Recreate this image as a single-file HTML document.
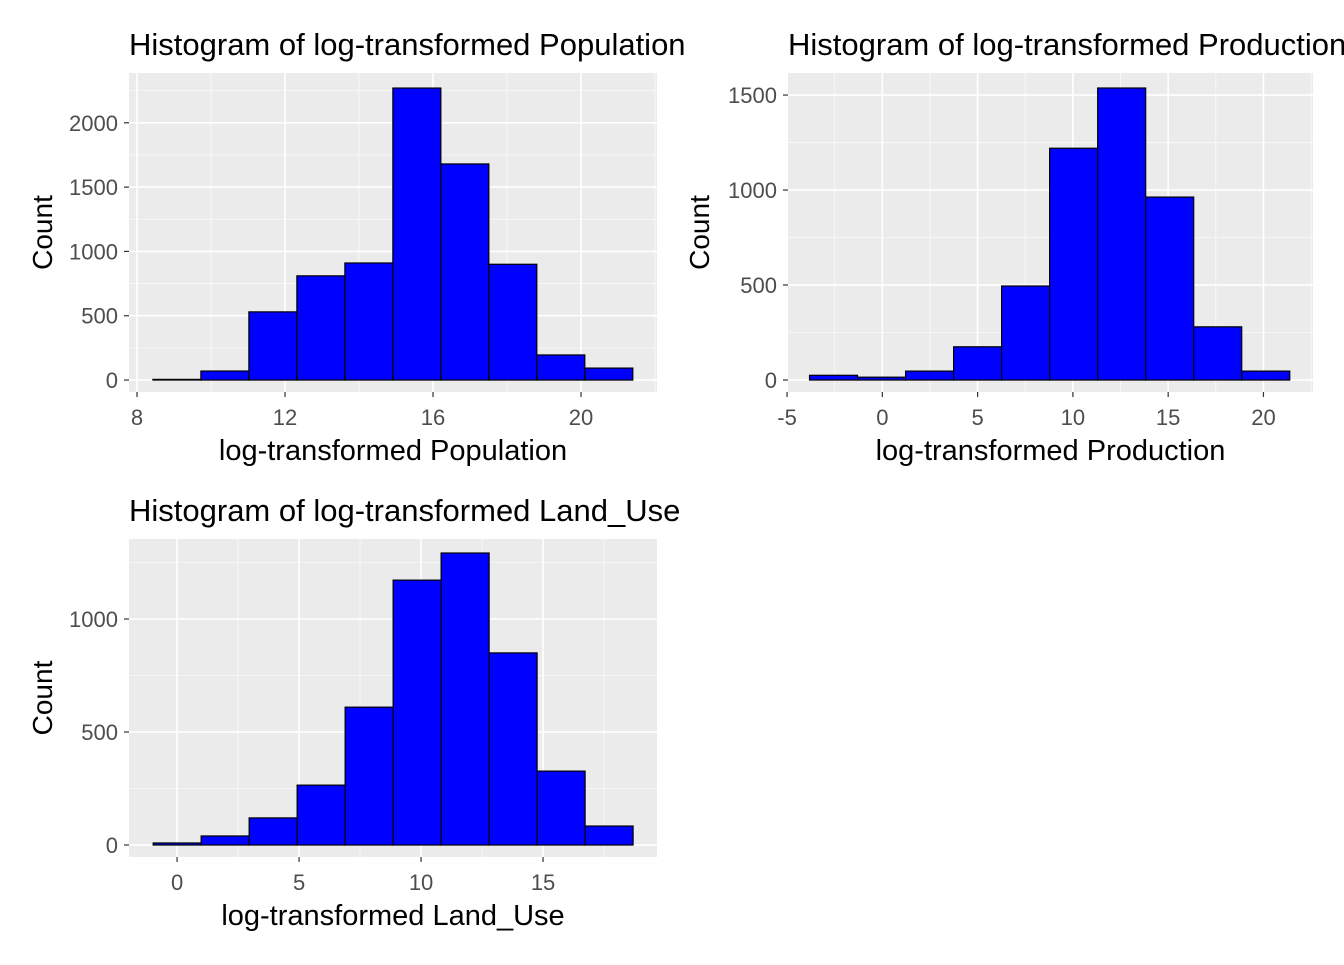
<!DOCTYPE html>
<html><head><meta charset="utf-8"><style>
body{margin:0;background:#fff;width:1344px;height:960px;overflow:hidden}
svg{font-family:"Liberation Sans",sans-serif}
</style></head><body>
<svg id="s" width="1344" height="960"></svg>
<script>
const popCounts=[5,70,530,810,910,2270,1680,900,195,93];
const prodCounts=[25,15,47,175,495,1220,1537,963,280,47];
const landCounts=[9,40,120,265,610,1172,1292,850,327,84];
const popXTicks=[8,12,16,20];
const prodXTicks=[-5,0,5,10,15,20];
const landXTicks=[0,5,10,15];
const popYTicks=[0,500,1000,1500,2000];
const prodYTicks=[0,500,1000,1500];
const landYTicks=[0,500,1000];
const popBins={start:8.43,width:1.297};
const prodBins={start:-3.82,width:2.52};
const landBins={start:-0.98,width:1.967};
const NS="http://www.w3.org/2000/svg";
const svg=document.getElementById('s');
function el(t,a,p){const e=document.createElementNS(NS,t);for(const k in a)e.setAttribute(k,a[k]);(p||svg).appendChild(e);return e;}
function panel(o){
  const g=el('g',{});
  
  
  const L=o.px[0],R=o.px[1],T=o.py[0],B=o.py[1];
  const sx=v=>L+(v-o.xd[0])/(o.xd[1]-o.xd[0])*(R-L);
  const sy=v=>B-(v-o.yd[0])/(o.yd[1]-o.yd[0])*(B-T);
  const bg=el('rect',{x:L,y:T,width:R-L,height:B-T,fill:'#ebebeb'},g);
  
  const xs=o.xt[1]-o.xt[0], ys=o.yt[1]-o.yt[0];
  for(let v=o.xt[0]-xs/2;v<=o.xd[1];v+=xs){if(v>=o.xd[0])el('line',{x1:sx(v),x2:sx(v),y1:T,y2:B,stroke:'#fafafa','stroke-width':0.8},g);}
  for(let v=o.yt[0]-ys/2;v<=o.yd[1];v+=ys){if(v>=o.yd[0])el('line',{y1:sy(v),y2:sy(v),x1:L,x2:R,stroke:'#fafafa','stroke-width':0.8},g);}
  o.xt.forEach(v=>{el('line',{x1:sx(v),x2:sx(v),y1:T,y2:B,stroke:'#fff','stroke-width':1.6},g);
    el('line',{x1:sx(v),x2:sx(v),y1:B,y2:B+5,stroke:'#333','stroke-width':1.2},g);
    const t=el('text',{x:sx(v),y:B+33,'text-anchor':'middle','font-size':22,fill:'#4d4d4d'},g);t.textContent=v;
    });
  o.yt.forEach(v=>{el('line',{y1:sy(v),y2:sy(v),x1:L,x2:R,stroke:'#fff','stroke-width':1.6},g);
    el('line',{y1:sy(v),y2:sy(v),x1:L-5,x2:L,stroke:'#333','stroke-width':1.2},g);
    const t=el('text',{x:L-11,y:sy(v)+8,'text-anchor':'end','font-size':22,fill:'#4d4d4d'},g);t.textContent=v;
    });
  o.counts.forEach((c,i)=>{const x0=o.bins.start+i*o.bins.width;
    const r=el('rect',{x:sx(x0),y:sy(c),width:sx(x0+o.bins.width)-sx(x0),height:sy(0)-sy(c),fill:'#0000ff',stroke:'#000','stroke-width':1.2},g);
    });
  const tt=el('text',{x:L,y:T-18,'font-size':31,fill:'#000'},g);tt.textContent=o.title;
  
  const xt=el('text',{x:(L+R)/2,y:B+68,'text-anchor':'middle','font-size':29,fill:'#000'},g);xt.textContent=o.xlab;
  
  const cy=(T+B)/2;
  const yt=el('text',{x:o.ylx,y:cy,'text-anchor':'middle','font-size':28,fill:'#000',transform:`rotate(-90 ${o.ylx} ${cy})`},g);yt.textContent='Count';
  
}
panel({name:'population-panel',px:[129,657],py:[73,392],xd:[7.784,22.054],yd:[-93,2387],xt:popXTicks,yt:popYTicks,counts:popCounts,bins:popBins,title:'Histogram of log-transformed Population',xlab:'log-transformed Population',ylx:52});
panel({name:'production-panel',px:[788,1313],py:[73,392],xd:[-4.95,22.6],yd:[-63,1616],xt:prodXTicks,yt:prodYTicks,counts:prodCounts,bins:prodBins,title:'Histogram of log-transformed Production',xlab:'log-transformed Production',ylx:709});
panel({name:'land-use-panel',px:[129,657],py:[539,857],xd:[-1.97,19.67],yd:[-53,1354],xt:landXTicks,yt:landYTicks,counts:landCounts,bins:landBins,title:'Histogram of log-transformed Land_Use',xlab:'log-transformed Land_Use',ylx:52});
</script>
</body></html>
